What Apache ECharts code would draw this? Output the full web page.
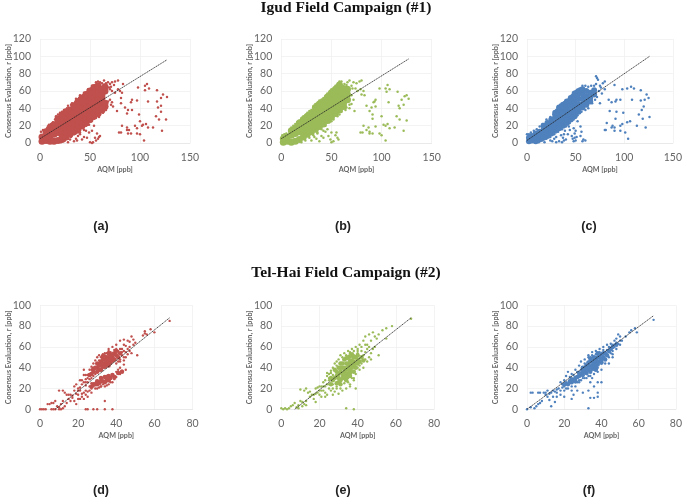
<!DOCTYPE html>
<html><head><meta charset="utf-8">
<style>html,body{margin:0;padding:0;background:#fff}#c{width:685px;height:498px;filter:blur(0.35px)}</style>
<script src="https://cdn.jsdelivr.net/npm/echarts@6/dist/echarts.min.js"></script></head>
<body><div id="c"></div>
<script>
const topXTicksMax=150, topYMax=120, botXMax=80, botYMax=100;
const xName='AQM [ppb]', yName='Consensus Evaluation, r [ppb]';
const titles=['Igud Field Campaign (#1)','Tel-Hai Field Campaign (#2)'];
const panelLabels=['(a)','(b)','(c)','(d)','(e)','(f)'];
const colors=['#c0504d','#9bbb59','#4f81bd','#c0504d','#9bbb59','#4f81bd'];

const trendA=[[0,5],[127,96]], trendB=[[0,5],[127,97]], trendC=[[0,3],[126,100]];
const trendD=[[8,0],[68,88]], trendE=[[7,0],[68,88]], trendF=[[0,0],[68,90]];

const coreA=[[2,2],[2,7],[6,3],[6,9],[6,13],[10,2],[10,8],[10,14],[10,18],[14,2],[14,10],[14,16],[14,21],[18,3],[18,12],[18,18],[18,24],[18,28],[22,4],[22,9],[22,15],[22,21],[22,27],[22,32],[26,7],[26,12],[26,18],[26,24],[26,30],[26,36],[30,10],[30,14],[30,20],[30,26],[30,32],[30,38],[34,13],[34,17],[34,23],[34,29],[34,35],[34,41],[34,43],[38,16],[38,21],[38,27],[38,33],[38,39],[38,45],[38,48],[42,20],[42,24],[42,30],[42,36],[42,42],[42,48],[42,52],[46,23],[46,28],[46,34],[46,40],[46,46],[46,52],[46,56],[50,27],[50,32],[50,38],[50,44],[50,50],[50,56],[50,60],[54,31],[54,35],[54,41],[54,47],[54,53],[54,59],[54,64],[58,34],[58,38],[58,44],[58,50],[58,56],[58,62],[58,66],[62,38],[62,41],[62,46],[62,52],[62,56],[62,62],[65,42],[65,46],[65,60],[65,65]];
const pointsA=[[1,13],[3,15],[5,14],[7,17],[9,21],[11,22],[13,24],[15,27],[16,31],[18,33],[20,35],[22,36],[24,38],[27,40],[28,43],[31,44],[32,46],[35,47],[36,51],[39,52],[40,55],[43,55],[44,58],[47,59],[48,62],[51,63],[52,66],[55,67],[56,70],[58,71],[60,70],[62,69],[64,72],[66,69],[68,70],[70,68],[69,64],[71,65],[72,70],[74,67],[75,71],[78,72],[70,62],[72,60],[75,58],[78,62],[80,60],[82,58],[83,68],[70,50],[72,47],[71,44],[68,48],[67,42],[66,38],[63,35],[60,33],[59,30],[56,29],[54,28],[51,25],[49,21],[46,20],[43,17],[40,15],[38,12],[34,10],[31,7],[28,5],[25,3],[21,1],[34,2],[36,5],[38,8],[40,10],[42,4],[44,7],[46,14],[47,6],[49,12],[50,1],[52,0],[53,1],[55,6],[56,3],[57,11],[58,5],[60,8],[59,7],[44,15],[52,14],[54,20],[40,12],[30,4],[28,1],[37,3]];
const outA=[[107,68],[105,66],[98,64],[117,61],[105,61],[109,63],[123,56],[127,53],[121,52],[117,48],[108,48],[97,49],[92,50],[91,47],[85,41],[88,38],[92,38],[87,34],[99,33],[118,41],[121,43],[121,36],[116,31],[119,27],[126,27],[100,25],[95,20],[82,20],[87,18],[106,22],[102,20],[103,21],[97,17],[108,18],[113,18],[122,14],[79,12],[81,12],[88,11],[91,11],[97,11],[100,10],[104,3],[87,15],[89,15],[81,52],[81,46],[77,37],[73,42]];

const coreB=[[2,1],[2,5],[6,2],[6,7],[10,1],[10,9],[10,14],[14,2],[14,11],[14,17],[18,4],[18,13],[18,19],[18,23],[22,7],[22,12],[22,16],[22,22],[22,27],[26,10],[26,14],[26,19],[26,25],[26,31],[30,13],[30,17],[30,22],[30,28],[30,34],[34,16],[34,20],[34,25],[34,31],[34,37],[34,41],[38,19],[38,23],[38,28],[38,34],[38,40],[38,45],[42,22],[42,26],[42,31],[42,37],[42,43],[42,48],[46,26],[46,30],[46,36],[46,42],[46,48],[46,53],[50,30],[50,34],[50,40],[50,46],[50,52],[50,58],[54,34],[54,38],[54,44],[54,50],[54,56],[54,62],[58,38],[58,42],[58,48],[58,54],[58,60],[58,67],[62,42],[62,46],[62,52],[62,58],[62,63],[66,50],[66,56],[66,62]];
const pointsB=[[1,9],[3,10],[5,11],[8,14],[10,18],[12,20],[14,22],[16,24],[18,26],[20,28],[22,31],[24,32],[26,35],[28,37],[30,38],[32,42],[34,45],[36,46],[38,49],[40,50],[42,52],[44,54],[46,57],[48,58],[50,62],[52,62],[54,66],[55,66],[57,69],[58,71],[60,71],[61,66],[63,68],[65,67],[66,70],[68,72],[70,66],[71,63],[72,70],[75,69],[78,71],[80,72],[74,63],[76,60],[79,62],[82,60],[83,55],[80,56],[70,55],[72,50],[70,45],[68,44],[68,40],[65,41],[64,38],[60,36],[58,33],[56,31],[52,27],[50,25],[48,24],[44,20],[40,16],[36,12],[32,9],[28,6],[24,3],[20,1],[30,3],[35,5],[38,2],[36,11],[40,8],[42,6],[44,13],[46,16],[47,8],[49,4],[50,1],[52,2],[54,9],[55,12],[56,6],[57,4],[50,12],[42,14],[33,7]];
const outB=[[106,67],[104,63],[98,63],[108,62],[116,59],[105,59],[123,54],[125,55],[127,51],[120,50],[107,47],[94,50],[93,48],[92,47],[85,43],[90,41],[94,42],[117,43],[122,44],[118,40],[88,37],[91,33],[100,31],[115,31],[118,27],[125,26],[91,28],[106,22],[102,21],[104,20],[82,20],[87,18],[94,19],[108,17],[113,18],[122,14],[79,12],[81,12],[88,11],[91,11],[98,11],[100,9],[104,3],[85,15],[88,13],[73,37]];

const coreC=[[2,2],[2,6],[5,3],[5,8],[9,2],[9,6],[9,11],[13,4],[13,8],[13,13],[17,6],[17,10],[17,15],[17,20],[21,8],[21,12],[21,17],[21,23],[25,11],[25,16],[25,21],[25,27],[29,14],[29,19],[29,24],[29,30],[29,35],[33,17],[33,22],[33,27],[33,33],[33,38],[33,41],[37,20],[37,25],[37,30],[37,36],[37,41],[37,44],[41,23],[41,28],[41,33],[41,39],[41,44],[41,48],[45,27],[45,32],[45,37],[45,43],[45,48],[45,52],[49,31],[49,36],[49,41],[49,47],[49,52],[49,57],[53,36],[53,40],[53,45],[53,51],[53,57],[53,60],[57,41],[57,45],[57,51],[57,57],[57,62],[61,44],[61,48],[61,54],[61,60],[65,48],[65,52],[65,58],[69,56],[69,61]];
const pointsC=[[0,10],[2,10],[4,12],[7,14],[10,16],[13,19],[16,22],[20,27],[24,30],[27,33],[30,38],[34,44],[38,47],[42,50],[46,55],[50,60],[54,63],[57,66],[60,66],[63,65],[66,66],[69,66],[71,68],[71,77],[72,75],[73,73],[75,66],[76,64],[78,69],[80,71],[74,60],[77,57],[80,62],[72,53],[70,50],[67,46],[63,40],[60,38],[56,36],[52,32],[48,27],[44,23],[40,19],[36,16],[32,13],[28,10],[24,7],[20,5],[16,3],[12,1],[8,1],[18,1],[24,3],[26,2],[30,1],[33,2],[36,1],[38,3],[37,6],[40,4],[42,10],[38,10],[44,15],[46,8],[48,2],[49,6],[50,3],[47,5],[51,7],[49,11],[50,14],[55,19],[56,13],[57,2],[58,4],[60,3],[55,8],[30,7],[35,9],[39,14],[28,5],[43,19],[48,17],[52,25]];
const outC=[[107,65],[103,63],[110,63],[98,62],[117,61],[90,67],[123,56],[125,52],[121,50],[117,49],[108,50],[92,50],[91,48],[96,50],[84,50],[87,47],[120,42],[118,38],[85,37],[92,36],[99,35],[115,33],[119,28],[126,30],[91,28],[106,25],[103,24],[98,22],[82,23],[96,20],[87,18],[88,20],[90,18],[113,20],[122,18],[80,15],[81,15],[90,14],[96,14],[101,12],[104,5],[75,46]];

const coreD=[[30,40],[32,42],[34,44],[36,46],[38,50],[33,48],[35,50],[37,52],[31,38],[33,41],[35,43],[37,45],[39,48],[40,52],[30,44],[28,36],[32,46],[36,54],[42,54],[28,24],[30,27],[32,30],[34,31],[36,32],[38,33],[34,26],[36,28],[26,33],[34,48],[36,42],[38,47],[33,44],[31,42],[29,40],[35,46],[37,48],[39,54],[41,50],[27,34],[35,28],[33,27],[31,25],[29,24],[37,30],[39,31],[41,35],[32,38],[34,41],[36,50],[38,53],[30,36],[28,39],[33,51],[35,47],[32,44],[37,50],[40,56],[43,36],[32,27],[35,31],[30,24],[27,22]];
const pointsD=[[0,0],[1,0],[2,0],[3,0],[6,0],[7,0],[8,0],[10,0],[11,0],[12,1],[5,5],[7,6],[8,8],[9,3],[10,2],[11,5],[12,8],[10,18],[12,18],[13,16],[14,14],[14,6],[16,14],[15,10],[17,11],[18,8],[19,5],[20,10],[18,22],[19,24],[20,20],[21,18],[22,28],[23,26],[24,23],[21,28],[20,14],[22,12],[23,10],[24,14],[25,17],[26,18],[27,20],[24,33],[25,30],[26,38],[23,38],[27,41],[28,44],[29,47],[30,50],[31,52],[27,25],[28,22],[30,20],[32,22],[34,22],[36,24],[38,26],[40,36],[41,38],[42,40],[44,43],[40,44],[42,48],[44,50],[43,58],[44,62],[46,66],[48,70],[45,55],[47,60],[49,62],[50,64],[46,58],[51,52],[38,60],[40,62],[42,66],[44,67],[36,58],[34,54],[48,54],[55,73],[55,75],[54,71],[56,72],[58,77],[60,74],[68,85],[38,0],[34,8],[34,0],[28,0],[24,0],[25,0],[30,0],[32,22],[29,34],[27,30],[25,26],[41,46],[43,52],[22,15],[24,18],[26,22],[25,12],[21,10],[23,16],[27,16],[29,20],[31,21],[33,24],[35,23],[37,26],[39,29],[40,31],[42,34],[43,37],[45,38],[25,33],[24,29],[22,24],[23,33],[26,29],[28,32],[24,26],[27,38],[31,47],[33,53],[35,54],[37,55],[39,57],[41,56],[43,55],[45,50],[46,53],[47,56],[42,46],[44,47],[32,50],[34,52],[36,56],[40,58],[42,58],[44,56],[45,61],[47,65],[49,67],[17,13],[15,14],[19,15],[20,18],[18,18],[21,21],[6,6],[4,5],[13,3],[16,8]];

const coreE=[[27,28],[29,32],[31,36],[33,40],[35,44],[37,47],[39,50],[30,26],[32,30],[34,34],[36,38],[38,42],[40,44],[31,44],[33,48],[35,50],[37,53],[28,38],[30,40],[26,24],[34,28],[36,32],[38,36],[33,36],[35,38],[29,25],[31,24],[32,34],[34,38],[36,42],[38,46],[40,48],[32,40],[34,44],[36,47],[28,30],[30,34],[26,30],[30,30],[33,30],[35,34],[37,40],[39,40],[41,46],[43,47],[32,44],[34,49],[36,51],[38,50],[40,52],[33,33],[35,41],[37,44],[39,44],[31,28],[34,31],[36,35],[29,36],[31,40],[42,50]];
const pointsE=[[0,1],[1,0],[2,1],[3,0],[4,1],[5,3],[6,4],[7,6],[8,2],[9,1],[10,8],[11,3],[12,5],[13,4],[10,19],[12,18],[13,20],[14,16],[15,12],[16,14],[17,10],[18,7],[19,16],[20,14],[18,20],[19,21],[21,22],[22,18],[23,16],[24,14],[22,26],[23,28],[24,32],[25,30],[26,35],[24,35],[25,20],[26,18],[27,14],[28,17],[29,20],[30,15],[32,18],[34,20],[36,24],[38,28],[27,40],[28,44],[29,46],[30,48],[31,52],[33,54],[35,56],[37,58],[39,60],[41,62],[43,66],[44,70],[46,72],[48,74],[45,62],[47,66],[49,70],[50,68],[51,72],[53,76],[55,78],[58,80],[55,68],[40,54],[42,56],[44,48],[42,44],[41,38],[43,40],[45,46],[46,50],[47,54],[48,58],[51,52],[38,30],[39,20],[36,22],[34,1],[38,0],[27,24],[26,30],[40,40],[35,30],[37,36],[36,54],[68,87],[20,22],[21,18],[22,22],[23,22],[24,24],[25,24],[27,20],[29,22],[31,20],[33,25],[35,26],[37,30],[39,34],[41,42],[25,34],[26,37],[27,33],[29,42],[32,50],[34,52],[36,55],[38,52],[40,56],[44,55],[45,58],[46,60],[47,48],[49,60],[44,62],[42,60],[40,58],[38,56],[43,52],[17,14],[15,17],[18,15],[20,18],[21,12],[23,12],[13,8],[11,7],[9,4],[25,28]];

const coreF=[[33,38],[35,42],[37,44],[39,46],[41,50],[34,46],[36,50],[38,50],[40,53],[31,36],[29,34],[27,31],[25,28],[23,27],[32,42],[42,54],[44,56],[30,40],[34,36],[37,38],[28,32],[33,42],[35,46],[37,48],[39,50],[41,54],[36,44],[38,46],[40,48],[31,40],[34,41],[26,30],[24,29],[43,52],[45,58],[30,37],[32,39],[36,40],[38,43],[40,45],[42,48],[34,49],[36,47],[32,35],[28,35],[30,33],[26,27],[24,26],[22,24],[20,24],[38,54],[35,39],[33,45],[37,41],[46,60],[48,62]];
const pointsF=[[0,0],[2,16],[3,16],[5,3],[6,5],[7,6],[8,8],[9,16],[10,16],[6,16],[7,16],[11,18],[12,15],[13,16],[14,18],[15,17],[16,19],[10,14],[11,12],[14,12],[16,12],[18,14],[19,21],[20,22],[21,20],[18,26],[20,28],[21,32],[22,36],[24,34],[26,38],[28,42],[29,46],[31,48],[33,52],[35,55],[37,56],[39,58],[41,60],[43,62],[45,63],[46,62],[47,66],[48,68],[49,72],[50,70],[51,66],[53,70],[55,74],[56,76],[58,78],[59,74],[68,86],[44,60],[46,56],[48,58],[50,62],[42,48],[40,44],[38,40],[36,38],[35,30],[33,32],[30,30],[28,26],[26,22],[24,18],[22,20],[20,18],[38,26],[40,26],[36,22],[33,18],[30,16],[27,18],[25,14],[24,10],[20,12],[38,16],[38,12],[34,11],[36,11],[33,1],[4,1],[2,2],[12,9],[15,7],[13,3],[32,34],[44,44],[46,50],[47,60],[49,63],[45,54],[43,57],[41,57],[39,55],[37,53],[35,52],[33,50],[31,44],[29,38],[27,36],[25,33],[23,31],[21,26],[19,24],[17,20],[16,16],[18,18],[22,24],[24,22],[26,26],[28,28],[30,34],[32,30],[34,32],[36,34],[38,36],[40,38],[42,44],[44,50],[46,53],[48,64],[50,66],[47,62],[27,26],[29,28],[31,30],[34,26]];

const data=[
 {core:coreA,pts:pointsA,out:outA,trend:trendA},{core:coreB,pts:pointsB,out:outB,trend:trendB},{core:coreC,pts:pointsC,out:outC,trend:trendC},
 {core:coreD,pts:pointsD,out:[],trend:trendD},{core:coreE,pts:pointsE,out:[],trend:trendE},{core:coreF,pts:pointsF,out:[],trend:trendF}];
const boxes=[[40,39,150,104],[281.3,39,150.4,104],[527,39,150,104],[40,305.3,152.5,104],[281.3,305.3,152.7,104],[527,305.3,153,104]];
const labelPos=[[101,227],[343,227],[589,227],[101,491],[343,491],[589,491]];
const coreSizes=[7,7,6,4.5,4.5,4.5];
const pointSizes=[2.5,2.5,2.5,2.4,2.4,2.4];

const grid=[],xAxis=[],yAxis=[],series=[];
data.forEach((d,i)=>{
  const b=boxes[i],top=i<3;
  grid.push({left:b[0],top:b[1],width:b[2],height:b[3]});
  const split={show:true,lineStyle:{color:'#eeeeee',width:0.7}};
  const lab={color:'#666',fontSize:10.5,fontFamily:'Lato, Liberation Sans'};
  const nm={color:'#666',fontSize:7.2,fontWeight:'bold',fontFamily:'Lato, Liberation Sans'};
  xAxis.push({gridIndex:i,type:'value',min:0,max:top?topXTicksMax:botXMax,interval:top?50:20,name:xName,nameLocation:'middle',nameGap:23,nameMoveOverlap:false,nameTextStyle:nm,
    axisLine:{show:true,lineStyle:{color:'#e4e4e4',width:0.7}},axisTick:{show:false},axisLabel:{...lab,margin:9},splitLine:split});
  yAxis.push({gridIndex:i,type:'value',min:0,max:top?topYMax:botYMax,interval:20,name:yName,nameLocation:'middle',nameGap:28,nameMoveOverlap:false,nameTextStyle:nm,
    axisLine:{show:false},axisTick:{show:false},axisLabel:{...lab,margin:9},splitLine:split});
  const base={type:'scatter',xAxisIndex:i,yAxisIndex:i,silent:true,animation:false,itemStyle:{color:colors[i],opacity:1}};
  series.push({...base,data:d.core,symbolSize:coreSizes[i]});
  series.push({...base,data:d.pts.concat(d.out),symbol:'circle',symbolSize:pointSizes[i]});
  series.push({type:'line',xAxisIndex:i,yAxisIndex:i,data:d.trend,showSymbol:false,silent:true,animation:false,z:5,lineStyle:{color:'#222',width:0.8,type:[1.5,0.6]}});
});
const serif={fontFamily:'Liberation Serif',fontWeight:'bold',fontSize:15.5,color:'#111'};
const title=[
 {text:titles[0],left:346,top:-0.5,padding:0,textAlign:'center',textStyle:serif},
 {text:titles[1],left:346,top:265,padding:0,textAlign:'center',textStyle:serif}];
panelLabels.forEach((t,i)=>title.push({text:t,left:labelPos[i][0],top:labelPos[i][1]-7,padding:0,textAlign:'center',textStyle:{fontFamily:'Liberation Sans',fontWeight:'bold',fontSize:12.5,color:'#222'}}));
const chart=echarts.init(document.getElementById('c'),null,{renderer:'canvas'});
chart.setOption({backgroundColor:'#fff',animation:false,title,grid,xAxis,yAxis,series});
</script></body></html>
